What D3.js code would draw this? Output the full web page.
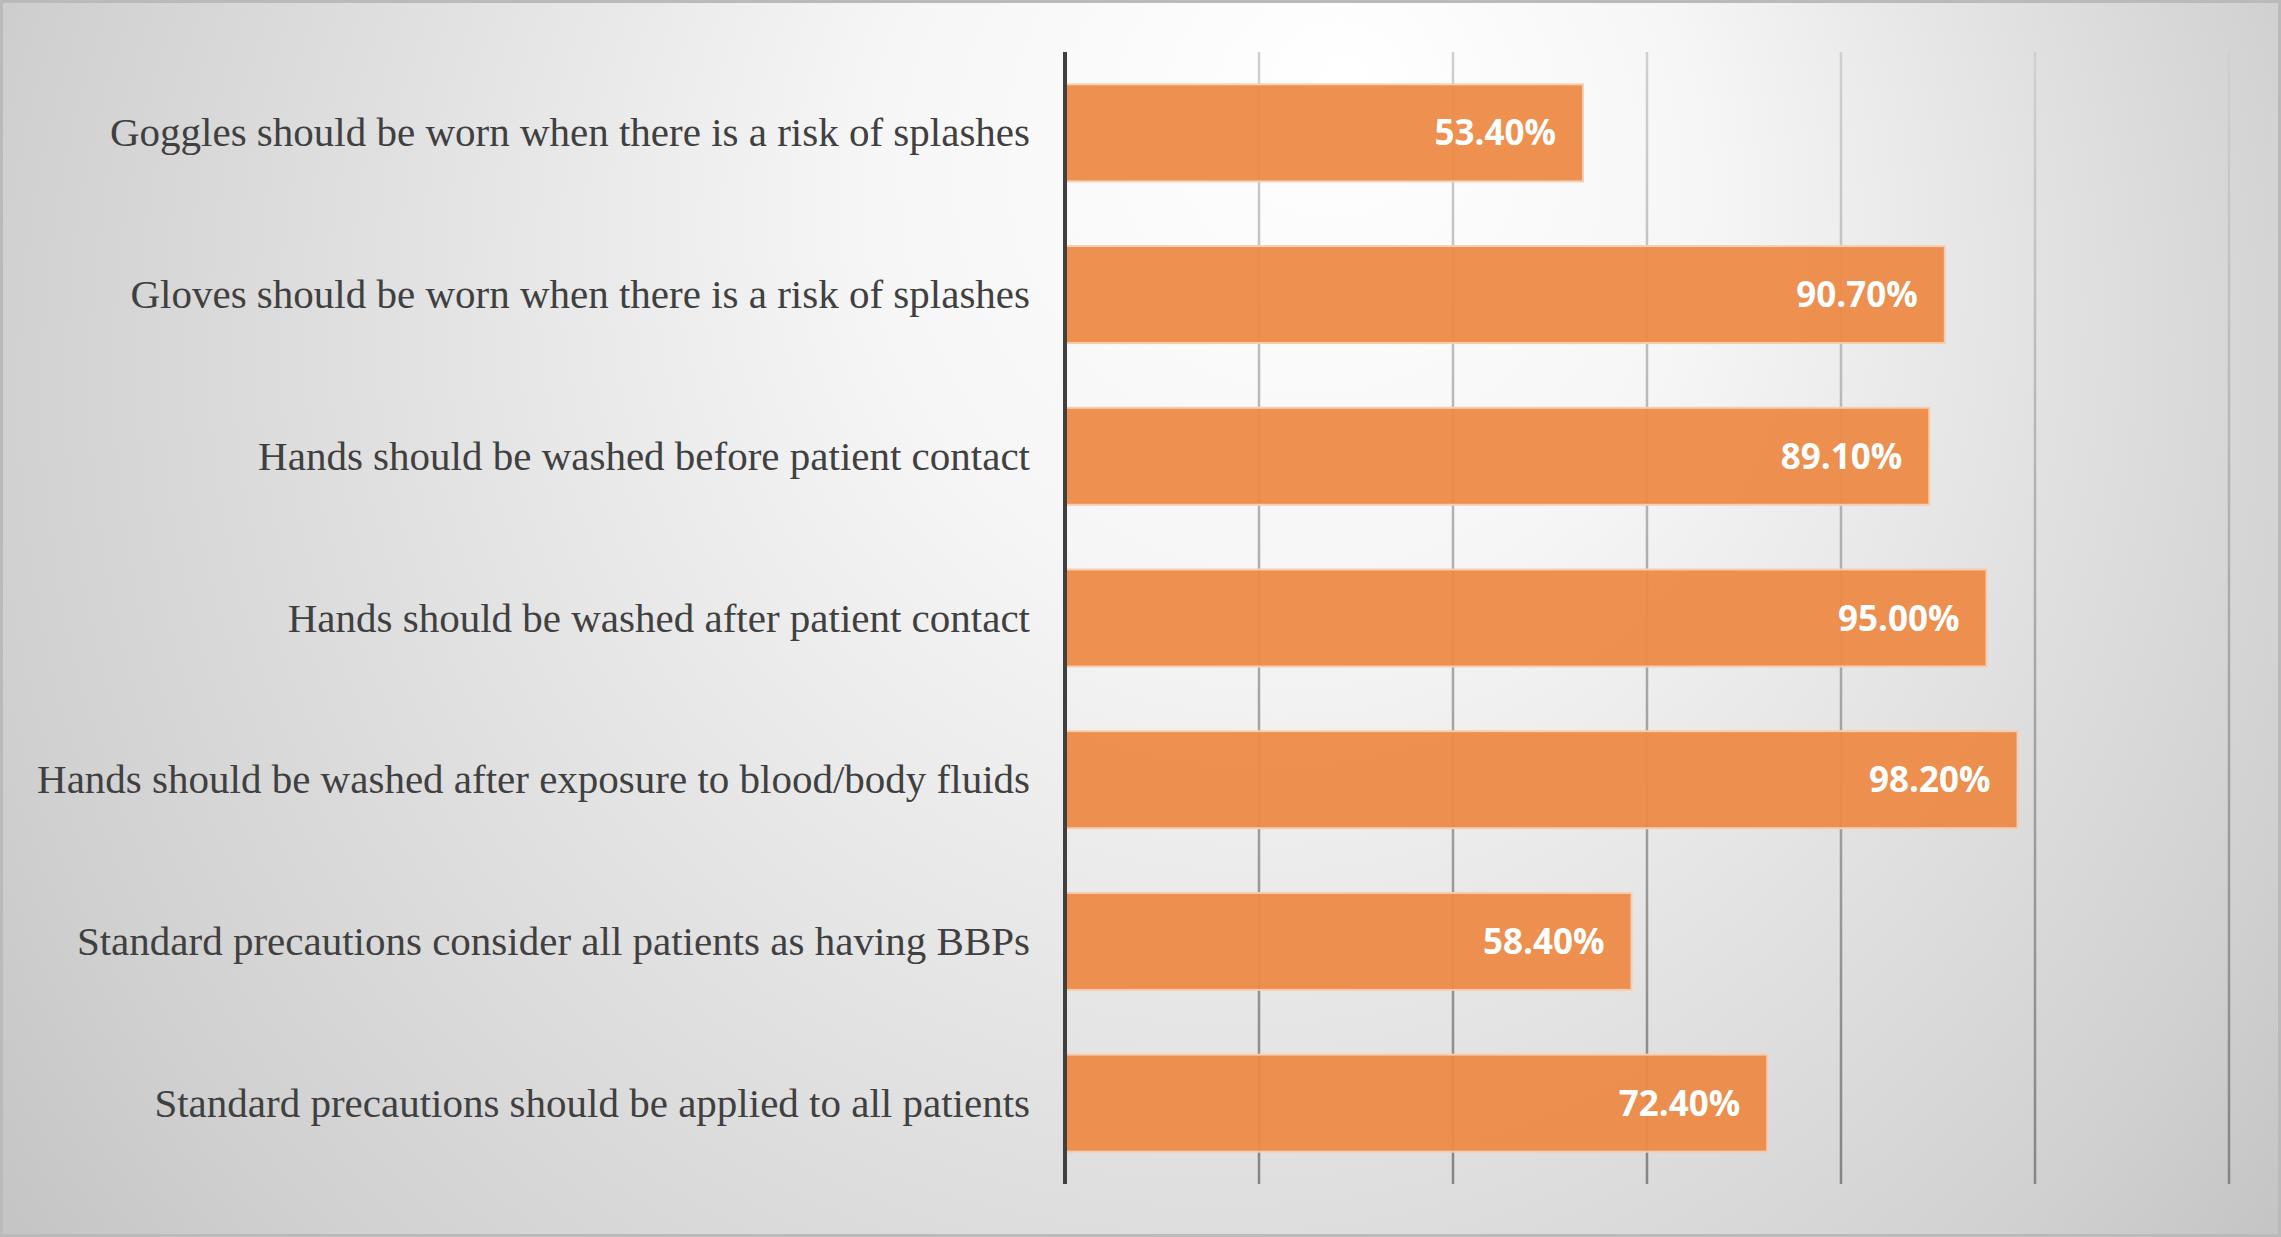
<!DOCTYPE html>
<html>
<head>
<meta charset="utf-8">
<script src="https://cdn.jsdelivr.net/npm/d3@7"></script>
<style>
  html, body { margin: 0; padding: 0; background: #fff; }
  svg { display: block; }
</style>
</head>
<body>
<svg id="chart"></svg>
<script>
// Data
const categories = [
  'Goggles should be worn when there is a risk of splashes',
  'Gloves should be worn when there is a risk of splashes',
  'Hands should be washed before patient contact',
  'Hands should be washed after patient contact',
  'Hands should be washed after exposure to blood/body fluids',
  'Standard precautions consider all patients as having BBPs',
  'Standard precautions should be applied to all patients'
];
const values = [53.4, 90.7, 89.1, 95.0, 98.2, 58.4, 72.4];
const xDomain = [0, 120];

const width = 2281;
const height = 1237;
const margin = { top: 52, right: 52, bottom: 53, left: 1065 };

const svg = d3.select('#chart')
  .attr('width', width)
  .attr('height', height);

const defs = svg.append('defs');

// background: light spot near the top, greyer toward every corner
const bg = defs.append('radialGradient')
  .attr('id', 'bg')
  .attr('gradientUnits', 'userSpaceOnUse')
  .attr('cx', 1140).attr('cy', 460).attr('r', 1380)
  .attr('fx', 1350).attr('fy', 70);
bg.append('stop').attr('offset', '0%').attr('stop-color', '#ffffff');
bg.append('stop').attr('offset', '30%').attr('stop-color', '#f6f6f6');
bg.append('stop').attr('offset', '62%').attr('stop-color', '#e0e0e0');
bg.append('stop').attr('offset', '86%').attr('stop-color', '#d0d0d0');
bg.append('stop').attr('offset', '100%').attr('stop-color', '#c4c4c4');

// gridlines fade from light at the top to darker at the bottom
const gridGrad = defs.append('linearGradient')
  .attr('id', 'gridGrad')
  .attr('gradientUnits', 'userSpaceOnUse')
  .attr('x1', 0).attr('y1', margin.top)
  .attr('x2', 0).attr('y2', height - margin.bottom);
gridGrad.append('stop').attr('offset', '0%').attr('stop-color', '#d0d0d0');
gridGrad.append('stop').attr('offset', '100%').attr('stop-color', '#858585');

svg.append('rect')
  .attr('width', width)
  .attr('height', height)
  .attr('fill', 'url(#bg)');

// frame
svg.append('rect')
  .attr('x', 1.5).attr('y', 1.5)
  .attr('width', width - 3).attr('height', height - 3)
  .attr('fill', 'none')
  .attr('stroke', '#bababa')
  .attr('stroke-width', 3);

const x = d3.scaleLinear()
  .domain(xDomain)
  .range([margin.left, width - margin.right]);

const y = d3.scaleBand()
  .domain(categories)
  .range([margin.top, height - margin.bottom])
  .paddingInner(0.4)
  .paddingOuter(0.2);

// vertical gridlines
svg.append('g')
  .selectAll('line')
  .data(x.ticks(6).filter(d => d > 0))
  .enter().append('line')
  .attr('x1', d => x(d))
  .attr('x2', d => x(d))
  .attr('y1', margin.top)
  .attr('y2', height - margin.bottom)
  .attr('stroke', 'url(#gridGrad)')
  .attr('stroke-width', 2.5);

// bars
svg.append('g')
  .selectAll('rect')
  .data(values)
  .enter().append('rect')
  .attr('x', x(0))
  .attr('y', (d, i) => y(categories[i]))
  .attr('width', d => x(d) - x(0))
  .attr('height', y.bandwidth())
  .attr('fill', '#ec8945')
  .attr('fill-opacity', 0.94)
  .attr('stroke', '#f7cdb0')
  .attr('stroke-width', 2);

// value labels inside bar ends
svg.append('g')
  .selectAll('text')
  .data(values)
  .enter().append('text')
  .attr('x', d => x(d) - 27)
  .attr('y', (d, i) => y(categories[i]) + y.bandwidth() / 2)
  .attr('dy', '0.36em')
  .attr('text-anchor', 'end')
  .attr('fill', '#ffffff')
  .style('font-family', '"Open Sans", "Noto Sans", sans-serif')
  .style('font-weight', 700)
  .style('font-size', '35px')
  .text(d => d.toFixed(2) + '%');

// category labels
svg.append('g')
  .selectAll('text')
  .data(categories)
  .enter().append('text')
  .attr('x', margin.left - 35)
  .attr('y', d => y(d) + y.bandwidth() / 2)
  .attr('dy', '0.33em')
  .attr('text-anchor', 'end')
  .attr('fill', '#404040')
  .style('font-family', '"Liberation Serif", "Times New Roman", serif')
  .style('font-size', '41px')
  .text(d => d);

// category axis line
svg.append('line')
  .attr('x1', x(0)).attr('x2', x(0))
  .attr('y1', margin.top)
  .attr('y2', height - margin.bottom)
  .attr('stroke', '#404040')
  .attr('stroke-width', 4);
</script>
</body>
</html>
